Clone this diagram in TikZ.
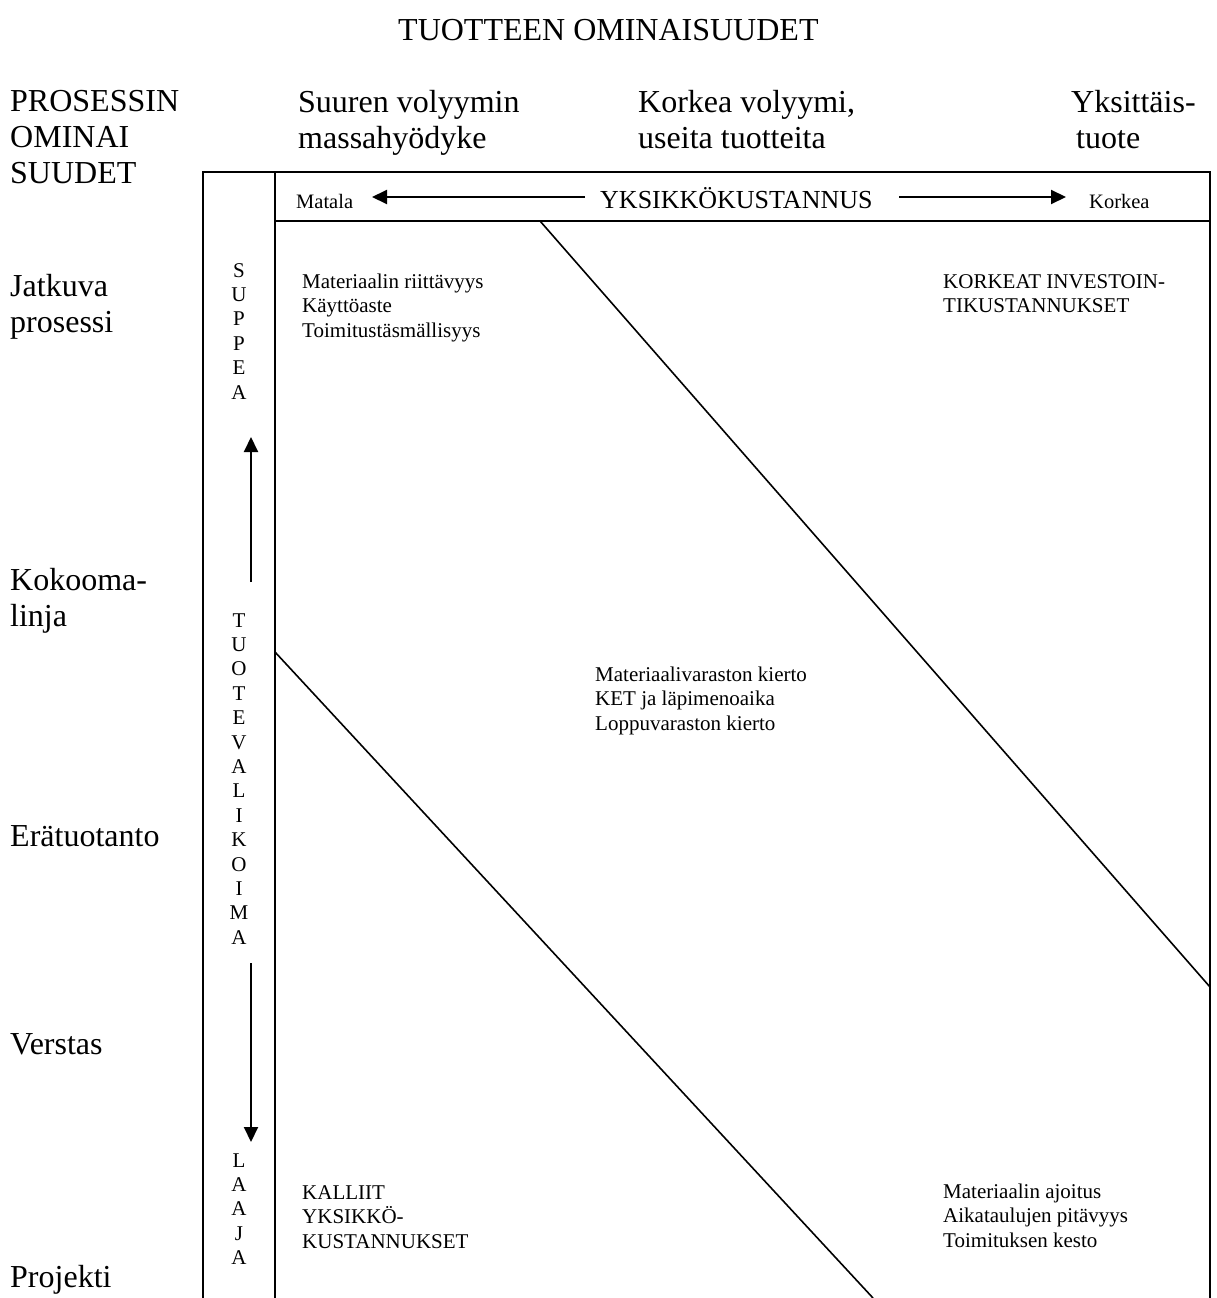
\documentclass[tikz,border=0pt]{standalone}
\usepackage{fontspec}
\setmainfont{Liberation Serif}
\usetikzlibrary{arrows.meta}
\newcommand{\stackrows}[2]{\begin{tabular}[t]{@{}#1@{}}#2\end{tabular}}
\begin{document}
\begin{tikzpicture}[x=1pt,y=-1pt,
  frame/.style={line width=2pt},
  diag/.style={line width=1.6pt},
  arr/.style={line width=2pt,-{Triangle[length=15pt,width=14pt]}},
  big/.style={font=\fontsize{32}{36}\selectfont, inner sep=0pt, anchor=base west},
  small/.style={font=\fontsize{21}{24.5}\selectfont, inner sep=0pt, anchor=base west},
  endlabel/.style={font=\fontsize{20.5}{24}\selectfont, inner sep=0pt, anchor=base west},
  costtitle/.style={font=\fontsize{26}{30}\selectfont, inner sep=0pt, anchor=base west},
  letters/.style={font=\fontsize{21}{24.4}\selectfont, inner sep=0pt, anchor=base},
]
\useasboundingbox (0,0) rectangle (1216,1298);

% title
\node[big] (title) at (398,41) {TUOTTEEN OMINAISUUDET};

% process characteristics (rows)
\node[big] (proc)    at (10,111)  {\stackrows{l}{PROSESSIN\\OMINAI\\SUUDET}};
\node[big] (jatkuva) at (10,296)  {\stackrows{l}{Jatkuva\\prosessi}};
\node[big] (kokooma) at (10,590)  {\stackrows{l}{Kokooma-\\linja}};
\node[big] (era)     at (10,846)  {Erätuotanto};
\node[big] (verstas) at (10,1054) {Verstas};
\node[big] (projekti) at (10,1287) {Projekti};

% product characteristics (columns)
\node[big] (massa)  at (298,112)  {\stackrows{l}{Suuren volyymin\\massahyödyke}};
\node[big] (useita) at (638,112)  {\stackrows{l}{Korkea volyymi,\\useita tuotteita}};
\node[big] (yksi)   at (1071,112) {\stackrows{l}{Yksittäis-\\\hspace*{5pt}tuote}};

% matrix frame
\draw[frame] (203,1298) -- (203,172) -- (1210,172) -- (1210,1298);
\draw[frame] (275,172) -- (275,1298);
\draw[frame] (275,221) -- (1210,221);

% unit cost scale
\node[endlabel]  (matala) at (296,208)  {Matala};
\node[costtitle] (cost)   at (600,208)  {YKSIKKÖKUSTANNUS};
\node[endlabel]  (korkea) at (1089,208) {Korkea};
\coordinate (costL)    at (585,197);
\coordinate (costLtip) at (372,197);
\coordinate (costR)    at (899,197);
\coordinate (costRtip) at (1066,197);
\draw[arr] (costL) -- (costLtip);
\draw[arr] (costR) -- (costRtip);

% product range column
\node[letters] (suppea) at (239,277)  {\stackrows{c}{S\\U\\P\\P\\E\\A}};
\node[letters] (valikoima) at (239,627) {\stackrows{c}{T\\U\\O\\T\\E\\V\\A\\L\\I\\K\\O\\I\\M\\A}};
\node[letters] (laaja) at (239,1167) {\stackrows{c}{L\\A\\A\\J\\A}};
\coordinate (upS)   at (251,582);
\coordinate (upT)   at (251,437);
\coordinate (downS) at (251,963);
\coordinate (downT) at (251,1142);
\draw[arr] (upS) -- (upT);
\draw[arr] (downS) -- (downT);

% diagonal boundaries
\draw[diag] (540,221) -- (1210,987);
\draw[diag] (275,652) -- (873,1298);

% measures in the fields
\node[small] (m1) at (302,288)  {\stackrows{l}{Materiaalin riittävyys\\Käyttöaste\\Toimitustäsmällisyys}};
\node[small] (m2) at (943,288)  {\stackrows{l}{KORKEAT INVESTOIN-\\TIKUSTANNUKSET}};
\node[small] (m3) at (595,681)  {\stackrows{l}{Materiaalivaraston kierto\\KET ja läpimenoaika\\Loppuvaraston kierto}};
\node[small] (m4) at (302,1199) {\stackrows{l}{KALLIIT\\YKSIKKÖ-\\KUSTANNUKSET}};
\node[small] (m5) at (943,1198) {\stackrows{l}{Materiaalin ajoitus\\Aikataulujen pitävyys\\Toimituksen kesto}};
\end{tikzpicture}
\end{document}
